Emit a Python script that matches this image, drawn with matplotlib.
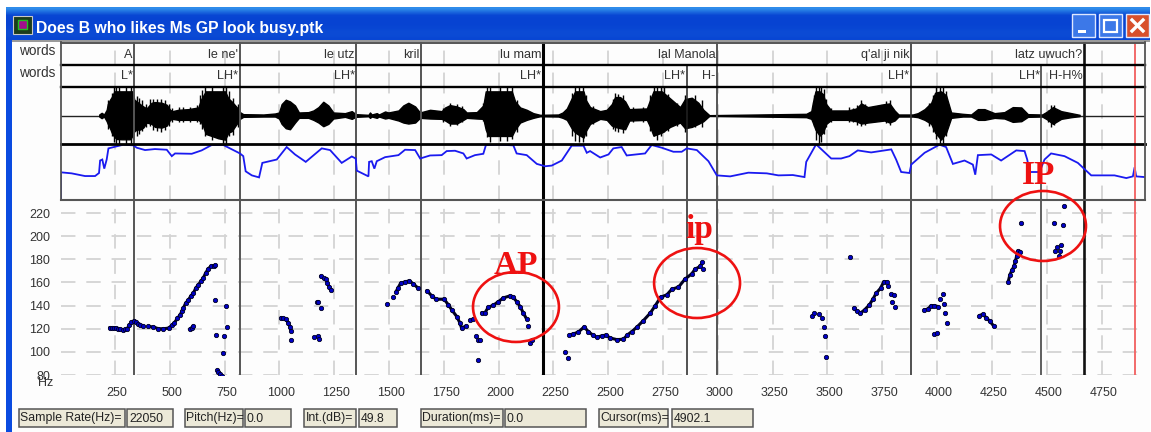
import numpy as np
import matplotlib
matplotlib.use("Agg")
import matplotlib.pyplot as plt
from matplotlib.patches import Ellipse, Rectangle
from matplotlib.transforms import ScaledTranslation

# ---------- data ----------
title = "Does B who likes Ms GP look busy.ptk"
word_ends = [337, 818, 1351, 1645, 2201, 2996, 3880, 4669]
word_labels = ["A", "le ne'", "le utz", "kril", "lu mam", "lal Manola", "q'al ji nik", "latz uwuch?"]
tone_ends = [337, 818, 1351, 2201, 2858, 2996, 3880, 4476, 4669]
tone_labels = ["L*", "LH*", "LH*", "LH*", "LH*", "H-", "LH*", "LH*", "H-H%"]
cursor_ms = 4902
x_ticks = list(range(250, 5000, 250))
y_ticks = list(range(80, 240, 20))

wave_ms = [178,189,200,212,217,227,235,247,258,280,318,329,338,349,364,379,394,417,432,463,486,501,512,539,585,630,642,653,664,691,721,752,767,782,805,820,835,
           927,980,998,1010,1029,1048,1071,1089,1132,1155,1178,1200,1223,1246,1299,1330,1348,1406,1413,1421,1444,1454,1482,1497,1543,1565,1588,1619,
           1641,1687,1740,1756,1778,1809,1839,1854,1900,1930,1941,1953,2006,2060,2075,2098,2128,2158,2189,
           2272,2292,2311,2333,2349,2387,2397,2417,2463,2493,2516,2531,2554,2577,2596,2676,2691,2706,2744,2782,2828,2850,2881,2911,2934,2961,
           3403,3426,3433,3445,3464,3479,3494,3517,3593,3631,3654,3684,3760,3783,3806,3824,
           3889,3912,3943,3973,3991,4018,4041,4064,4117,4155,4186,4216,4262,4307,4345,4384,4414,
           4479,4505,4528,4566,4612,4650]
wave_up = [3,8,3,17,34,47,55,72,72,72,72,72,47,42,34,27,21,38,40,38,32,17,13,17,19,24,47,60,72,72,72,72,51,42,25,10,4,
           3,6,9,34,47,42,30,9,10,15,25,41,30,9,7,13,4,2,9,3,7,3,12,9,15,30,38,27,
           9,17,13,24,31,27,19,9,10,30,72,72,72,72,42,24,17,7,2,
           3,9,21,51,72,72,47,25,13,17,34,55,55,42,19,21,47,72,72,51,25,49,53,38,17,1,
           5,13,38,72,72,64,34,15,15,21,36,25,34,36,15,3,
           3,7,19,38,68,72,60,9,5,3,19,19,7,10,25,24,4,
           3,13,25,13,7,2]
wave_dn = [3,8,3,17,25,38,51,64,70,71,71,61,47,42,42,36,21,25,34,36,30,13,10,13,13,13,19,34,55,61,68,72,51,47,25,10,4,
           3,3,9,25,38,41,21,7,7,13,21,32,25,9,4,10,4,2,7,3,7,3,9,7,15,21,24,21,
           7,9,10,15,24,24,13,7,9,10,42,61,61,61,42,21,13,7,2,
           3,7,13,38,51,66,47,25,10,13,30,34,38,41,15,13,34,60,51,34,21,38,34,25,17,1,
           5,10,21,42,60,51,25,13,13,17,24,21,15,21,15,3,
           3,5,13,25,51,72,51,7,3,3,13,13,7,9,19,17,4,
           3,13,25,10,5,2]

spike_ms = [220,235,247,255,268,299,323,334,349,359,375,390,410,425,440,460,478,496,509,542,562,592,623,638,648,660,691,744,755,770,790,810,
            1748,1778,1812,1832,1930,1945,1961,2006,2040,2060,2082,2333,2349,2367,2384,2397,2432,2520,2531,2546,2569,2615,2660,2691,2709,2724,2739,2752,2774,2812,2850,2896,2926,
            3438,3448,3459,3471,3483,3494,3517,3600,3616,3635,3654,3669,3768,3783,3965,3981,3996,4011,4026,4041,4505,4520,4533]
spike_up = [45,68,85,85,85,85,85,62,58,52,45,35,48,50,48,48,45,35,22,25,25,26,32,60,75,85,85,85,85,72,52,35,
            22,38,35,28,38,85,85,85,85,85,45,68,85,85,85,62,28,48,68,65,60,25,25,60,85,85,85,85,65,38,60,60,45,
            60,85,85,85,80,50,22,25,22,30,45,35,42,45,38,60,85,85,85,72,15,30,32]
spike_dn = [40,60,80,85,85,85,85,70,60,55,45,35,30,42,45,48,42,30,18,18,18,18,20,25,40,62,72,85,85,60,58,35,
            18,30,28,20,15,65,80,75,75,70,48,60,75,80,80,60,25,40,45,50,52,18,18,45,60,72,62,50,45,30,48,35,35,
            30,72,85,80,55,35,18,18,18,28,30,28,22,28,30,50,70,85,85,60,18,35,28]

level_ms = [4,4,52,113,159,177,182,192,201,212,220,258,288,334,349,387,432,486,509,524,600,645,691,744,798,820,835,846,874,907,922,988,1033,1071,1120,1193,1231,1284,1330,1348,1353,1406,1409,1421,1433,1444,1482,1543,1573,1619,1642,
            1687,1740,1763,1801,1839,1854,1892,1930,1942,1999,2067,2082,2128,2174,2212,2242,2288,2333,2387,2402,2417,2463,2501,2523,2561,2584,2668,2698,2744,2797,2835,2858,2904,2957,2995,3056,3139,3223,3276,
            3342,3395,3403,3448,3517,3562,3600,3638,3699,3791,3813,3836,3874,3882,3943,4011,4041,4072,4125,4163,4174,4186,4247,4292,4361,4399,4411,4422,4467,4490,4520,4581,4642,4703,4809,4863,4893,4901,4908,4946]
level_val = [0,82,79,71,71,80,117,120,93,120,153,159,164,162,155,148,151,149,130,138,137,147,163,163,145,138,130,85,73,67,110,120,157,135,113,153,148,110,129,123,87,70,113,115,93,115,127,133,149,148,123,
             132,133,145,146,138,123,133,137,163,164,162,138,133,107,100,102,117,161,161,140,145,126,135,153,157,132,138,163,155,143,143,153,148,115,73,70,81,79,73,
             74,68,113,165,123,123,130,147,141,150,120,83,80,105,140,164,157,107,117,105,75,133,135,117,147,145,120,83,83,120,138,130,110,73,73,65,70,97,70,68]

c1_ms = [225,235,245,255,265,275,285,295,305,315,325,337,345,355,365,379]
c1_hz = [121,121,121,120.5,120,119.5,119,119.5,120,123,125.5,127,125.5,124,123,122.4]
c2_ms = [402,425,448,471,494,509,520,535,547,555,562,572,585,595,608,618,630,642,653,663,676,688,700,706]
c2_hz = [122,121.5,120,120,120.5,123,125,129,132,135,138,142,145,148,151,155,158,161,164,168,172,174,174.5,175]
c3_ms = [592,600,607]
c3_hz = [119.5,121,122.5]
c4_ms = [717,722,729,737]
c4_hz = [84.3,82.9,81,79]
c5_ms = [1007,1018,1030,1041,1048,1052]
c5_hz = [129.6,129,128,124.7,121.9,118.4]
c6_ms = [1188,1201,1213,1219,1228,1234]
c6_hz = [165.5,163.7,162.9,159.4,155.9,153.6]
c7_ms = [1532,1540,1553,1573,1593,1611,1634]
c7_hz = [152,155,159.4,160.5,161.4,158.8,154.8]
c8_ms = [1672,1695,1714,1751,1771,1786,1809,1824,1831,1850]
c8_hz = [153,148.4,145.5,145.5,140.6,136.3,130.5,124.7,120.4,122.4]
c9_ms = [1923,1938,1953,1976,1999,2022,2052,2067,2082,2098,2113,2128]
c9_hz = [134,134,138.6,140.3,143.5,146.7,148.4,147,143.5,139.2,133.4,128.2]
c10_ms = [2323,2341,2364,2390,2409,2429,2447,2470,2490,2508,2539,2569,2587,2607,2630,2660,2691,2714,2739,2767,2790,2820,2850,2881,2896,2919,2929]
c10_hz = [114.6,115.5,117.2,121.6,117.5,114.6,112.6,113.8,114.6,112,110.6,110.9,114.6,117.5,121.3,127,133.4,139.8,147.3,149.3,154.2,155.9,162.9,167.5,171.5,173.8,177.3]
c11_ms = [3620,3635,3650,3669,3691,3707,3722,3742,3757,3772]
c11_hz = [138,135,133.4,136.3,140.6,145.5,150.7,155,160.8,160.5]
c12_ms = [3942,3957,3973,3988,4003]
c12_hz = [136.3,136.9,140,140,139.2]
c13_ms = [4193,4208,4224,4239,4258]
c13_hz = [131.4,132.5,129.6,126.8,122.4]
c14_ms = [4324,4332,4341,4350,4357,4363,4368,4380]
c14_hz = [160.5,166.6,170.4,173.8,178.2,183,187.4,185.9]
contours = [(c1_ms,c1_hz),(c2_ms,c2_hz),(c3_ms,c3_hz),(c4_ms,c4_hz),(c5_ms,c5_hz),(c6_ms,c6_hz),(c7_ms,c7_hz),
            (c8_ms,c8_hz),(c9_ms,c9_hz),(c10_ms,c10_hz),(c11_ms,c11_hz),(c12_ms,c12_hz),(c13_ms,c13_hz),(c14_ms,c14_hz)]

dot_ms = [706,711,754,760,749,743,1055,1158,1178,1182,1170,1178,1190,1489,1520,1867,1882,1897,1908,1915,1906,2133,2143,2151,2304,2315,2934,
          3602,3430,3440,3463,3475,3486,3489,3495,3778,3790,3802,3796,3807,4015,4026,4030,4038,4044,3988,4000,4383,4534,4572,4578,4566,4545,4540,4561,4555]
dot_hz = [145,114.6,140,121.6,113.8,98.8,110.6,113,113.8,110.9,143,143,138.3,141.5,147,127.6,128.2,113.8,110.3,110.3,93,122.4,108,110.3,99.9,95,171.5,
          182.2,131.4,133.4,132.5,129.6,121.9,113.5,95.9,156.5,149.9,149.3,142.9,138.9,145.8,149.9,141.5,133.4,124.7,115.5,116.7,211.6,211.6,209.6,226.4,192,191,187,186.8,183]

circle_ms = [2079, 2905, 4483]
circle_hz = [138.8, 159.5, 208.8]
circle_labels = ["AP", "ip", "IP"]
label_ms = [2079, 2915, 4464]
label_hz = [175, 206, 252]

status_labels = ["Sample Rate(Hz)=", "Pitch(Hz)=", "Int.(dB)=", "Duration(ms)=", "Cursor(ms)="]
status_values = ["22050", "0.0", "49.8", "0.0", "4902.1"]

# ---------- layout ----------
W, H = 1151, 432
PX_L, PX_R = 61, 1144.5
XLIM = (3.6, 4946)
FONT = "Liberation Sans"
plt.rcParams["font.family"] = FONT
fig = plt.figure(figsize=(W/100, H/100), dpi=100, facecolor="white")

def panel(top, bottom, z=2):
    return fig.add_axes([PX_L/W, 1-bottom/H, (PX_R-PX_L)/W, (bottom-top)/H], zorder=z, facecolor="none")

# window chrome
bg = fig.add_axes([0, 0, 1, 1], zorder=0)
bg.set_xlim(0, W); bg.set_ylim(H, 0); bg.axis("off")
bg.add_patch(Rectangle((6, 7), 1144, 425, fc="#fdfdfd", ec="none"))
grad = np.array([[0.55,0.30,0.05,0.03,0.03,0.03,0.05,0.08,0.08,0.05]]).T
blue = np.dstack([0.02+grad*0.3, 0.25+grad*0.55, 0.82+grad*0.18])
bg.imshow(blue, extent=(6, 1150, 40, 7), aspect="auto", interpolation="bilinear", zorder=1)
bg.set_xlim(0, W); bg.set_ylim(H, 0)
bg.add_patch(Rectangle((6, 40), 6, 392, fc="#0a4be0", ec="none", zorder=1))
bg.add_patch(Rectangle((12, 40), 1138, 2, fc="#9a9a9a", ec="none", zorder=1))
bg.add_patch(Rectangle((13, 16), 19, 18, fc="#1c3c1c", ec="#c8c8c8", lw=0.8, zorder=2))
bg.add_patch(Rectangle((18, 20), 9, 9, fc="#a0108c", ec="#20c020", lw=1, zorder=3))
bg.text(36, 28, title, color="white", fontsize=11.3, fontweight="bold", va="center", ha="left", family="Liberation Sans", zorder=3)
for x0, col in [(1072, "#3c78e8"), (1099, "#3c78e8"), (1126, "#d8502c")]:
    bg.add_patch(Rectangle((x0, 14), 23, 23, fc=col, ec="#dfe8ff", lw=1, zorder=3))
bg.add_patch(Rectangle((1078, 30), 8, 3, fc="white", ec="none", zorder=4))
bg.add_patch(Rectangle((1104, 20), 13, 12, fc="none", ec="white", lw=1.6, zorder=4))
bg.plot([1132, 1143], [20, 31], color="white", lw=2.4, zorder=4)
bg.plot([1143, 1132], [20, 31], color="white", lw=2.4, zorder=4)
bg.text(55, 51, "words", ha="right", va="center", fontsize=9.8, color="#333333")
bg.text(55, 73, "words", ha="right", va="center", fontsize=9.8, color="#333333")

# status boxes
box_lab = [(19, 125), (185, 243), (304, 356), (421, 503), (599, 668)]
box_val = [(127, 173), (245, 291), (359, 397), (505, 586), (672, 753)]
for (a, b), (c, d), s, v in zip(box_lab, box_val, status_labels, status_values):
    bg.add_patch(Rectangle((a, 409), b-a, 18, fc="#ece9d8", ec="#555555", lw=1.1, zorder=2))
    bg.add_patch(Rectangle((c, 409), d-c, 18, fc="#ece9d8", ec="#555555", lw=1.1, zorder=2))
    bg.text(a+1.5, 418.5, s, fontsize=8.8, va="center", ha="left", color="#222222", zorder=3)
    bg.text(c+2, 418.5, v, fontsize=8.8, va="center", ha="left", color="#222222", zorder=3)

# panels
ax_w = panel(42, 65); ax_t = panel(65, 87); ax_a = panel(87, 144); ax_i = panel(144, 200)
ax_p = panel(200, 375, z=1)
panels = [ax_w, ax_t, ax_a, ax_i, ax_p]
GRID = dict(color="#d4d4d4", lw=1.3, dashes=(8, 6), zorder=0.5)
for ax in panels:
    ax.set_xlim(*XLIM)
    for t in x_ticks:
        ax.axvline(t, **GRID)
    if ax is not ax_p:
        ax.set_xticks([]); ax.set_yticks([])
        for s in ax.spines.values():
            s.set_visible(False)

def vline(ax, t, col, lw):
    ax.axvline(t, color=col, lw=lw, zorder=3)

for ax in panels:
    for t in [337, 818, 1351, 1645, 2996]:
        vline(ax, t, "#555555", 1.4)
    vline(ax, 3880, "#333333", 1.2)
    vline(ax, 2201, "#000000", 2.2)
    vline(ax, 4669, "#111111", 1.9)
    if ax is not ax_w:
        vline(ax, 2858, "#222222", 1.1)
        vline(ax, 4476, "#333333", 1.1)
    ax.axvline(cursor_ms, color="#f26a6a", lw=1.4, zorder=6)

# text tiers
ax_w.set_ylim(0, 1); ax_t.set_ylim(0, 1)
for t, s in zip(word_ends, word_labels):
    ax_w.annotate(s, (t, 0.45), xytext=(-1.5, 0), textcoords="offset pixels", ha="right", va="center", fontsize=9.1, color="#333333", zorder=5)
for t, s in zip(tone_ends, tone_labels):
    ax_t.annotate(s, (t, 0.5), xytext=(-1.5, 0), textcoords="offset pixels", ha="right", va="center", fontsize=9.1, color="#333333", zorder=5)

# waveform
ax_a.set_ylim(-85, 85)
ax_a.axhline(0, color="#222222", lw=1.0, zorder=1)
ax_a.fill_between(wave_ms, wave_up, -np.array(wave_dn), color="black", lw=1.0, zorder=2)
ax_a.vlines(spike_ms, -np.array(spike_dn), spike_up, color="black", lw=1.0, zorder=2)

# intensity
ax_i.set_ylim(0, 166)
ax_i.plot(level_ms, level_val, color="#1a1af0", lw=1.3, zorder=4, solid_joinstyle="miter")

# pitch
ax_p.set_ylim(80, 80 + 175/1.157)
for s in ax_p.spines.values():
    s.set_visible(False)
for hz in y_ticks:
    ax_p.axhline(hz, **GRID)
ax_p.set_xticks(x_ticks)
ax_p.set_xticklabels([str(t) for t in x_ticks], fontsize=9, color="#333333")
ax_p.set_yticks(y_ticks)
ax_p.set_yticklabels([str(t) for t in y_ticks], fontsize=9, color="#333333")
ax_p.tick_params(length=0, axis="x", pad=9)
ax_p.tick_params(length=0, axis="y", pad=8)
shift = ScaledTranslation(2/100, 0, fig.dpi_scale_trans)
for lab in ax_p.get_xticklabels():
    lab.set_transform(lab.get_transform() + shift)
ax_p.annotate("Hz", (0, 80), xycoords=("axes fraction", "data"), xytext=(-8, -8), textcoords="offset pixels",
              ha="right", va="center", fontsize=9, color="#333333", annotation_clip=False)
MK = dict(marker="o", ms=3.1, mfc="#0000c8", mec="#000022", mew=0.6, zorder=5)
for xs, ys in contours:
    ax_p.plot(xs, ys, color="#000022", lw=2.2, solid_capstyle="round", **MK)
ax_p.plot(dot_ms, dot_hz, ls="none", clip_on=False, **MK)

# red annotations on an overlay sharing the pitch scale
ov = panel(200, 375, z=5)
ov.set_xlim(*XLIM); ov.set_ylim(*ax_p.get_ylim()); ov.axis("off")
for t, hz in zip(circle_ms, circle_hz):
    ov.add_patch(Ellipse((t, hz), 392, 60.5, fc="none", ec="#ee1111", lw=1.9, clip_on=False, zorder=7))
for t, hz, s in zip(label_ms, label_hz, circle_labels):
    ov.text(t, hz, s, color="#ee1111", family="Liberation Serif", fontweight="bold", fontsize=24,
            ha="center", va="center", clip_on=False, zorder=8)

# frame lines
fr = panel(42, 200, z=4)
fr.set_xlim(0, 1); fr.set_ylim(200, 42); fr.axis("off")
for y, c, lw in [(42.5, "#555555", 1.4), (65, "#000000", 1.7), (87, "#000000", 1.7), (144, "#000000", 2.0), (200, "#555555", 1.5)]:
    fr.axhline(y, color=c, lw=lw, clip_on=False)
for x in [0, 1]:
    fr.axvline(x, color="#555555", lw=1.3, clip_on=False)

fig.savefig("out.png", dpi=100, facecolor="white")
